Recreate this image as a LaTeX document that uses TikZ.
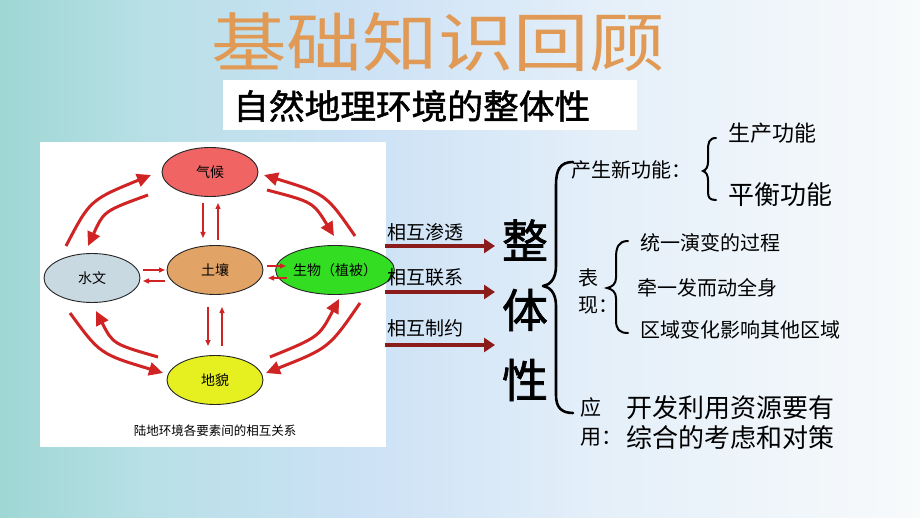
\documentclass[tikz,border=0pt]{standalone}
\usepackage{fontspec}
\newfontfamily\cjk{Noto Sans CJK SC}
\newfontfamily\cjkb[FakeBold=1.5]{Noto Sans CJK SC}
\usetikzlibrary{shapes.geometric,arrows.meta}
\definecolor{bga}{HTML}{9ED7D4}
\definecolor{bgb}{HTML}{B8E0E6}
\definecolor{bgm}{HTML}{CBE1F5}
\definecolor{bgc}{HTML}{E4EFF9}
\definecolor{bgr}{HTML}{F8FAFB}
\pgfdeclarehorizontalshading{slidebg}{100bp}{color(0bp)=(bga); color(25bp)=(bga); color(33bp)=(bgb); color(44bp)=(bgm); color(57.5bp)=(bgc); color(75bp)=(bgr); color(100bp)=(bgr)}
\definecolor{gold}{HTML}{E09A55}
\definecolor{arcred}{HTML}{D02424}
\definecolor{linkred}{HTML}{8B1C1C}
\definecolor{qred}{HTML}{F06464}
\definecolor{swgray}{HTML}{C9D9E2}
\definecolor{trtan}{HTML}{E2A466}
\definecolor{swgreen}{HTML}{33DD22}
\definecolor{dmyel}{HTML}{E6F020}
\tikzset{
  ell/.style={ellipse, draw=black!85, line width=0.9pt, minimum width=96pt, minimum height=49pt, inner sep=0pt, font=\cjk\fontsize{14}{16}\selectfont},
  bigarc/.style={draw=arcred, line width=3pt, -{Triangle[length=14pt,width=13pt]}},
  smallarr/.style={draw=arcred, line width=1.3pt, -{Triangle[length=6pt,width=5pt]}},
  linkarr/.style={draw=linkred, line width=4.5pt, -{Triangle[length=11pt,width=14pt]}},
  lbl/.style={anchor=west, inner sep=0pt, text=black},
  bracestroke/.style={draw=black, line width=2.6pt, line cap=round, line join=round},
}
\begin{document}
\begin{tikzpicture}[x=1pt,y=-1pt]
\useasboundingbox (0,0) rectangle (920,518);
\shade[shading=slidebg] (0,0) rectangle (920,518);
% title
\node[text=gold, xscale=1.18, inner sep=0pt, font=\cjk\fontsize{64}{66}\selectfont] (title) at (438,42) {基础知识回顾};
% subtitle box
\fill[white] (223,80) rectangle (637,130);
\node[lbl, xscale=1.05, font=\cjkb\fontsize{34}{36}\selectfont] (sub) at (233,106) {自然地理环境的整体性};
% panel
\fill[white] (40,142) rectangle (386,447);
\node[ell, fill=qred] (qh) at (210,172) {气候};
\node[ell, fill=swgray] (sw) at (92,278) {水文};
\node[ell, fill=trtan] (tr) at (215,270) {土壤};
\node[ell, fill=swgreen] (sb) at (335,270) {生物（植被）};
\node[ell, fill=dmyel] (dm) at (215,380) {地貌};
\node[inner sep=0pt, font=\cjk\fontsize{12.5}{14}\selectfont] (cap) at (215,431) {陆地环境各要素间的相互关系};
% big arcs
\coordinate (o1s) at (66,246); \coordinate (o1e) at (151,175);
\coordinate (i1s) at (148,195); \coordinate (i1e) at (88,246);
\coordinate (o2s) at (355,236); \coordinate (o2e) at (264,175);
\coordinate (i2s) at (267,190); \coordinate (i2e) at (334,236);
\coordinate (o3s) at (70,313); \coordinate (o3e) at (163,373);
\coordinate (i3s) at (158,357); \coordinate (i3e) at (96,311);
\coordinate (o4s) at (360,303); \coordinate (o4e) at (266,373);
\coordinate (i4s) at (270,357); \coordinate (i4e) at (339,299);
\draw[bigarc] (o1s) .. controls (90,200) .. (o1e);
\draw[bigarc] (i1s) .. controls (104,211) .. (i1e);
\draw[bigarc] (o2s) .. controls (326,194) .. (o2e);
\draw[bigarc] (i2s) .. controls (313,202) .. (i2e);
\draw[bigarc] (o3s) .. controls (100,354) .. (o3e);
\draw[bigarc] (i3s) .. controls (113,344) .. (i3e);
\draw[bigarc] (o4s) .. controls (329,348) .. (o4e);
\draw[bigarc] (i4s) .. controls (319,337) .. (i4e);
% small arrows
\coordinate (a1s) at (203,203); \coordinate (a1e) at (203,238);
\coordinate (a2s) at (218,240); \coordinate (a2e) at (218,203);
\coordinate (a3s) at (208,307); \coordinate (a3e) at (208,346);
\coordinate (a4s) at (222,346); \coordinate (a4e) at (222,307);
\coordinate (a5s) at (143,270); \coordinate (a5e) at (165,270);
\coordinate (a6s) at (165,281); \coordinate (a6e) at (143,281);
\coordinate (a7s) at (267,266); \coordinate (a7e) at (286,266);
\coordinate (a8s) at (287,278); \coordinate (a8e) at (268,278);
\foreach \k in {1,...,8} {\draw[smallarr] (a\k s) -- (a\k e);}
% link arrows
\node[lbl, font=\cjk\fontsize{19}{21}\selectfont] (l1) at (387,232) {相互渗透};
\node[lbl, font=\cjk\fontsize{19}{21}\selectfont] (l2) at (387,277) {相互联系};
\node[lbl, font=\cjk\fontsize{19}{21}\selectfont] (l3) at (387,328) {相互制约};
\coordinate (r1s) at (385,246); \coordinate (r1e) at (495,246);
\coordinate (r2s) at (385,292); \coordinate (r2e) at (495,292);
\coordinate (r3s) at (385,345); \coordinate (r3e) at (495,345);
\draw[linkarr] (r1s) -- (r1e);
\draw[linkarr] (r2s) -- (r2e);
\draw[linkarr] (r3s) -- (r3e);
% 整体性
\node[inner sep=0pt, font=\cjkb\fontsize{46}{48}\selectfont] (z1) at (525,240) {整};
\node[inner sep=0pt, font=\cjkb\fontsize{46}{48}\selectfont] (z2) at (525,310) {体};
\node[inner sep=0pt, font=\cjkb\fontsize{46}{48}\selectfont] (z3) at (525,380) {性};
% big brace
\draw[bracestroke] (573,162) .. controls (560,162) and (556,170) .. (556,185) -- (556,266)
  .. controls (556,279) and (550,285) .. (543,286) .. controls (550,287) and (556,293) .. (556,306)
  -- (556,395) .. controls (556,407) and (561,413) .. (573,413);
% branch 1
\node[lbl, font=\cjk\fontsize{20}{22}\selectfont] (cs) at (571,170) {产生新功能：};
\draw[draw=black, line width=2pt, line cap=round] (716,138) .. controls (709,138) and (708,143) .. (708,150) -- (708,162)
  .. controls (708,167) and (706,170) .. (703,171) .. controls (706,172) and (708,175) .. (708,180) -- (708,192)
  .. controls (708,198) and (710,200) .. (716,200);
\node[lbl, font=\cjk\fontsize{22}{24}\selectfont] (sc) at (728,133) {生产功能};
\node[lbl, font=\cjk\fontsize{26}{28}\selectfont] (ph) at (728,195) {平衡功能};
% branch 2
\node[lbl, font=\cjk\fontsize{20}{22}\selectfont] (bx1) at (578,278) {表};
\node[lbl, font=\cjk\fontsize{20}{22}\selectfont] (bx2) at (578,305) {现：};
\draw[draw=black, line width=2pt, line cap=round] (628,241) .. controls (618,241) and (616,248) .. (616,258) -- (616,278)
  .. controls (616,284) and (612,287) .. (607,288) .. controls (612,289) and (616,292) .. (616,298) -- (616,320)
  .. controls (616,329) and (619,333) .. (628,333);
\node[lbl, font=\cjk\fontsize{20}{22}\selectfont] (t1) at (640,243) {统一演变的过程};
\node[lbl, font=\cjk\fontsize{20}{22}\selectfont] (t2) at (637,288) {牵一发而动全身};
\node[lbl, font=\cjk\fontsize{20}{22}\selectfont] (t3) at (640,330) {区域变化影响其他区域};
% branch 3
\node[lbl, font=\cjk\fontsize{21}{23}\selectfont] (yy1) at (580,408) {应};
\node[lbl, font=\cjk\fontsize{21}{23}\selectfont] (yy2) at (580,437) {用：};
\node[lbl, font=\cjk\fontsize{26}{28}\selectfont] (k1) at (626,408) {开发利用资源要有};
\node[lbl, font=\cjk\fontsize{26}{28}\selectfont] (k2) at (626,438) {综合的考虑和对策};
\end{tikzpicture}
\end{document}
